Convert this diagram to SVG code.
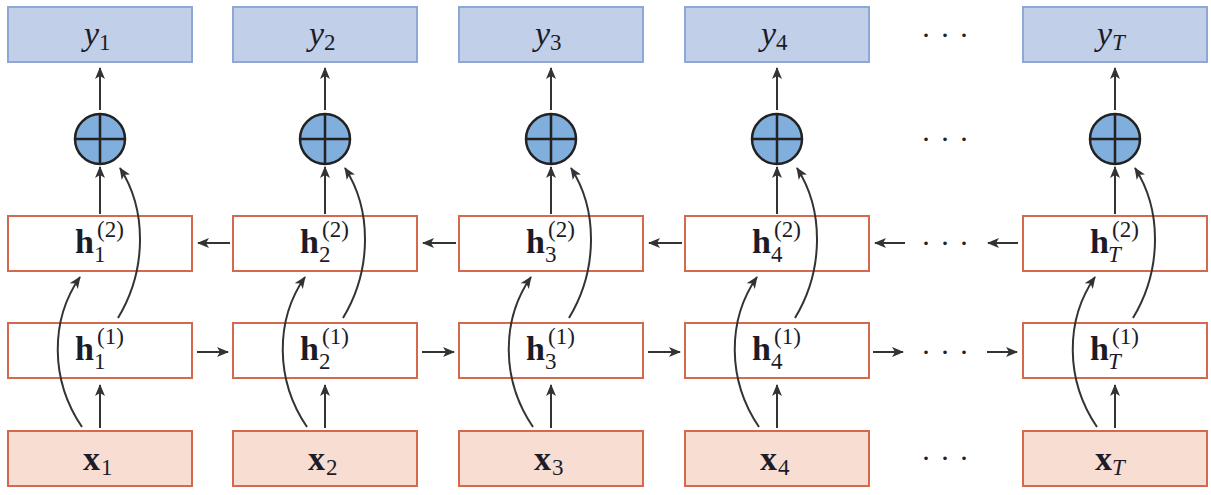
<svg xmlns="http://www.w3.org/2000/svg" width="1211" height="495" viewBox="0 0 1211 495">
<style>
.ybox{fill:#c2cfe9;stroke:#8fa7d3;stroke-width:2}
.hbox{fill:#ffffff;stroke:#d4694e;stroke-width:2}
.xbox{fill:#f8ddd3;stroke:#d4694e;stroke-width:2}
.add{fill:#80aedd;stroke:#222;stroke-width:2.5}
.cross{stroke:#222;stroke-width:2.5}
.conn{fill:none;stroke:#333;stroke-width:2;marker-end:url(#ah)}
text{font-family:'Liberation Serif','DejaVu Serif',serif;fill:#1c1c28}
.it{font-style:italic}
.bd{font-weight:bold}
.main{font-size:34px}
.sub{font-size:23px}
.sup{font-size:23px}
.dots text{font-size:30px;fill:#222;letter-spacing:9px}
</style>
<defs>
<marker id="ah" markerUnits="userSpaceOnUse" markerWidth="12" markerHeight="10" viewBox="0 0 12 10" refX="11" refY="5" orient="auto">
<path d="M0,0 L12,5 L0,10 L3,5 z" fill="#333"/>
</marker>
</defs>
<rect width="1211" height="495" fill="#ffffff"/>

<!-- column 1 (cx=100) -->
<g id="y1"><rect class="ybox" x="8" y="7" width="184" height="55"/><text class="main it" x="84" y="45">y<tspan class="sub" font-style="normal" dy="5">1</tspan></text></g>
<g id="add1"><circle class="add" cx="100" cy="139" r="25"/><path class="cross" d="M75 139 H125 M100 114 V164"/></g>
<g id="h2_1"><rect class="hbox" x="8" y="216" width="184" height="55"/><text class="main bd" x="75" y="253">h<tspan class="sub" font-weight="normal" x="94" y="262">1</tspan><tspan class="sup" font-weight="normal" x="97" y="237">(2)</tspan></text></g>
<g id="h1_1"><rect class="hbox" x="8" y="323" width="184" height="55"/><text class="main bd" x="75" y="360">h<tspan class="sub" font-weight="normal" x="94" y="369">1</tspan><tspan class="sup" font-weight="normal" x="97" y="344">(1)</tspan></text></g>
<g id="x1"><rect class="xbox" x="8" y="431" width="184" height="55"/><text class="main bd" x="83" y="470">x<tspan class="sub" font-weight="normal" x="101" y="475">1</tspan></text></g>

<!-- column 2 (cx=325) -->
<g id="y2"><rect class="ybox" x="233" y="7" width="184" height="55"/><text class="main it" x="309" y="45">y<tspan class="sub" font-style="normal" dy="5">2</tspan></text></g>
<g id="add2"><circle class="add" cx="325" cy="139" r="25"/><path class="cross" d="M300 139 H350 M325 114 V164"/></g>
<g id="h2_2"><rect class="hbox" x="233" y="216" width="184" height="55"/><text class="main bd" x="300" y="253">h<tspan class="sub" font-weight="normal" x="319" y="262">2</tspan><tspan class="sup" font-weight="normal" x="322" y="237">(2)</tspan></text></g>
<g id="h1_2"><rect class="hbox" x="233" y="323" width="184" height="55"/><text class="main bd" x="300" y="360">h<tspan class="sub" font-weight="normal" x="319" y="369">2</tspan><tspan class="sup" font-weight="normal" x="322" y="344">(1)</tspan></text></g>
<g id="x2"><rect class="xbox" x="233" y="431" width="184" height="55"/><text class="main bd" x="308" y="470">x<tspan class="sub" font-weight="normal" x="326" y="475">2</tspan></text></g>

<!-- column 3 (cx=551) -->
<g id="y3"><rect class="ybox" x="459" y="7" width="184" height="55"/><text class="main it" x="535" y="45">y<tspan class="sub" font-style="normal" dy="5">3</tspan></text></g>
<g id="add3"><circle class="add" cx="551" cy="139" r="25"/><path class="cross" d="M526 139 H576 M551 114 V164"/></g>
<g id="h2_3"><rect class="hbox" x="459" y="216" width="184" height="55"/><text class="main bd" x="526" y="253">h<tspan class="sub" font-weight="normal" x="545" y="262">3</tspan><tspan class="sup" font-weight="normal" x="548" y="237">(2)</tspan></text></g>
<g id="h1_3"><rect class="hbox" x="459" y="323" width="184" height="55"/><text class="main bd" x="526" y="360">h<tspan class="sub" font-weight="normal" x="545" y="369">3</tspan><tspan class="sup" font-weight="normal" x="548" y="344">(1)</tspan></text></g>
<g id="x3"><rect class="xbox" x="459" y="431" width="184" height="55"/><text class="main bd" x="534" y="470">x<tspan class="sub" font-weight="normal" x="552" y="475">3</tspan></text></g>

<!-- column 4 (cx=777) -->
<g id="y4"><rect class="ybox" x="685" y="7" width="184" height="55"/><text class="main it" x="761" y="45">y<tspan class="sub" font-style="normal" dy="5">4</tspan></text></g>
<g id="add4"><circle class="add" cx="777" cy="139" r="25"/><path class="cross" d="M752 139 H802 M777 114 V164"/></g>
<g id="h2_4"><rect class="hbox" x="685" y="216" width="184" height="55"/><text class="main bd" x="752" y="253">h<tspan class="sub" font-weight="normal" x="771" y="262">4</tspan><tspan class="sup" font-weight="normal" x="774" y="237">(2)</tspan></text></g>
<g id="h1_4"><rect class="hbox" x="685" y="323" width="184" height="55"/><text class="main bd" x="752" y="360">h<tspan class="sub" font-weight="normal" x="771" y="369">4</tspan><tspan class="sup" font-weight="normal" x="774" y="344">(1)</tspan></text></g>
<g id="x4"><rect class="xbox" x="685" y="431" width="184" height="55"/><text class="main bd" x="760" y="470">x<tspan class="sub" font-weight="normal" x="778" y="475">4</tspan></text></g>

<!-- column T (cx=1115) -->
<g id="yT"><rect class="ybox" x="1023" y="7" width="184" height="55"/><text class="main it" x="1097" y="45">y<tspan class="sub" dy="5">T</tspan></text></g>
<g id="addT"><circle class="add" cx="1115" cy="139" r="25"/><path class="cross" d="M1090 139 H1140 M1115 114 V164"/></g>
<g id="h2_T"><rect class="hbox" x="1023" y="216" width="184" height="55"/><text class="main bd" x="1090" y="253">h<tspan class="sub it" font-weight="normal" x="1108" y="262">T</tspan><tspan class="sup" font-weight="normal" x="1112" y="237">(2)</tspan></text></g>
<g id="h1_T"><rect class="hbox" x="1023" y="323" width="184" height="55"/><text class="main bd" x="1090" y="360">h<tspan class="sub it" font-weight="normal" x="1108" y="369">T</tspan><tspan class="sup" font-weight="normal" x="1112" y="344">(1)</tspan></text></g>
<g id="xT"><rect class="xbox" x="1023" y="431" width="184" height="55"/><text class="main bd" x="1095" y="470">x<tspan class="sub it" font-weight="normal" x="1112" y="475">T</tspan></text></g>

<!-- ellipses -->
<g id="ellipses" class="dots">
<text x="921" y="45">···</text>
<text x="921" y="149">···</text>
<text x="921" y="253">···</text>
<text x="921" y="362">···</text>
<text x="921" y="468">···</text>
</g>

<!-- connectors -->
<g id="connectors">
<path class="conn" d="M100 110 V68"/><path class="conn" d="M100 214 V167"/><path class="conn" d="M100 428 V385"/>
<path class="conn" d="M118 318 C147 270 147 210 120 168"/><path class="conn" d="M82 427 C50 380 50 320 80 277"/>
<path class="conn" d="M325 110 V68"/><path class="conn" d="M325 214 V167"/><path class="conn" d="M325 428 V385"/>
<path class="conn" d="M343 318 C372 270 372 210 345 168"/><path class="conn" d="M307 427 C275 380 275 320 305 277"/>
<path class="conn" d="M551 110 V68"/><path class="conn" d="M551 214 V167"/><path class="conn" d="M551 428 V385"/>
<path class="conn" d="M569 318 C598 270 598 210 571 168"/><path class="conn" d="M533 427 C501 380 501 320 531 277"/>
<path class="conn" d="M777 110 V68"/><path class="conn" d="M777 214 V167"/><path class="conn" d="M777 428 V385"/>
<path class="conn" d="M795 318 C824 270 824 210 797 168"/><path class="conn" d="M759 427 C727 380 727 320 757 277"/>
<path class="conn" d="M1115 110 V68"/><path class="conn" d="M1115 214 V167"/><path class="conn" d="M1115 428 V385"/>
<path class="conn" d="M1133 318 C1162 270 1162 210 1135 168"/><path class="conn" d="M1097 427 C1065 380 1065 320 1095 277"/>
<!-- backward layer (h2) -->
<path class="conn" d="M230 243 H198"/><path class="conn" d="M456 243 H423"/><path class="conn" d="M682 243 H649"/>
<path class="conn" d="M905 243 H875"/><path class="conn" d="M1018 243 H988"/>
<!-- forward layer (h1) -->
<path class="conn" d="M197 352 H228"/><path class="conn" d="M422 352 H454"/><path class="conn" d="M648 352 H680"/>
<path class="conn" d="M873 352 H903"/><path class="conn" d="M987 352 H1017"/>
</g>
</svg>
